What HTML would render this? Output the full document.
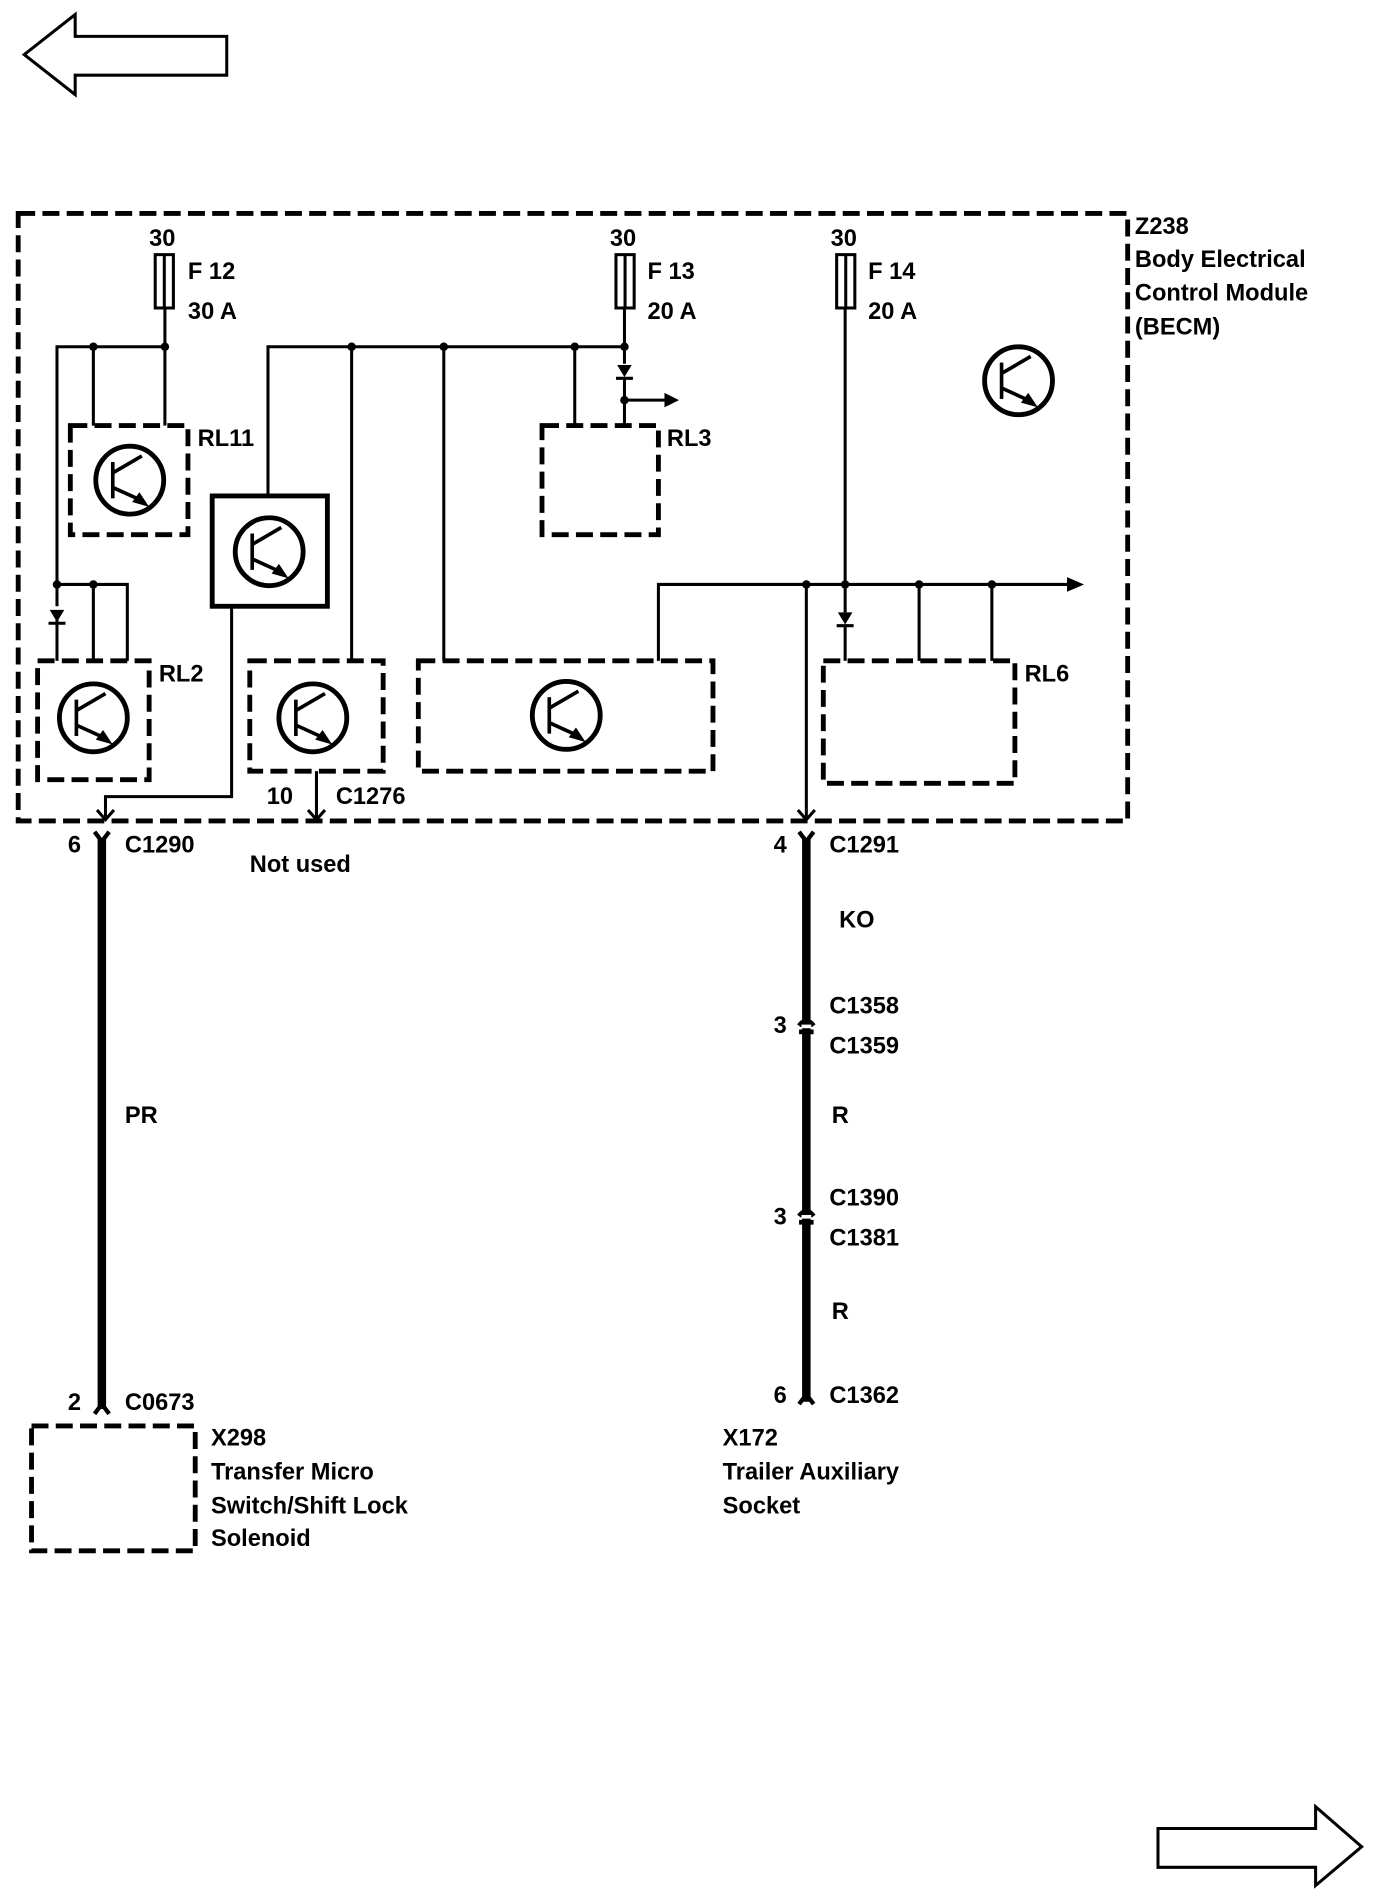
<!DOCTYPE html>
<html><head><meta charset="utf-8"><style>
html,body{margin:0;padding:0;background:#fff;}
svg{display:block;}
text{font-family:"Liberation Sans",Arial,sans-serif;font-weight:bold;font-size:19.5px;fill:#000;}
</style></head><body>
<svg width="1392" height="1902" viewBox="0 0 1148 1568.6" preserveAspectRatio="none" xmlns="http://www.w3.org/2000/svg">
<defs>
<g id="tr">
<circle cx="0" cy="0" r="28" fill="none" stroke="#000" stroke-width="4"/>
<line x1="-14" y1="-15" x2="-14" y2="15" stroke="#000" stroke-width="3"/>
<line x1="-14" y1="-6" x2="10" y2="-20" stroke="#000" stroke-width="3"/>
<line x1="-14" y1="6" x2="8" y2="16" stroke="#000" stroke-width="3"/>
<polygon points="16,22 2,18 8,10" fill="#000"/>
</g>
<g id="dio"><polygon points="-6,0 6,0 0,10" fill="#000"/><line x1="-7" y1="11" x2="7" y2="11" stroke="#000" stroke-width="2.5"/></g>
</defs>
<g fill="none" stroke="#000" stroke-width="2.5">
<polygon points="20,45 62,12 62,30 187,30 187,62 62,62 62,78"/>
<polygon points="1123,1523 1085,1490 1085,1508 955,1508 955,1540 1085,1540 1085,1555"/>
</g>
<g fill="none" stroke="#000" stroke-width="4" stroke-dasharray="14 6">
<rect x="15" y="176" width="915" height="501"/>
<rect x="58" y="351" width="97" height="90"/>
<rect x="31" y="545" width="92" height="98"/>
<rect x="206" y="545" width="110" height="91"/>
<rect x="345" y="545" width="243" height="91"/>
<rect x="447" y="351" width="96" height="90"/>
<rect x="679" y="545" width="158" height="101"/>
<rect x="26" y="1176" width="135" height="103"/>
</g>
<rect x="175" y="409" width="95" height="91" fill="none" stroke="#000" stroke-width="4"/>
<g stroke="#000" stroke-width="2.5" fill="none">
<rect x="128" y="210" width="15" height="44"/><line x1="135.5" y1="210" x2="135.5" y2="254"/>
<rect x="508" y="210" width="15" height="44"/><line x1="515.5" y1="210" x2="515.5" y2="254"/>
<rect x="690" y="210" width="15" height="44"/><line x1="697.5" y1="210" x2="697.5" y2="254"/>
<line x1="136" y1="254" x2="136" y2="351"/>
<polyline points="47,500 47,286 136,286"/>
<line x1="77" y1="286" x2="77" y2="351"/>
<line x1="47" y1="510" x2="47" y2="545"/>
<polyline points="47,482 105,482 105,545"/>
<line x1="77" y1="482" x2="77" y2="545"/>
<polyline points="221,409 221,286 515,286"/>
<line x1="515" y1="254" x2="515" y2="300"/>
<line x1="515" y1="312" x2="515" y2="351"/>
<line x1="515" y1="330" x2="548" y2="330"/>
<line x1="474" y1="286" x2="474" y2="351"/>
<line x1="290" y1="286" x2="290" y2="545"/>
<line x1="366" y1="286" x2="366" y2="545"/>
<polyline points="191,500 191,657 87,657 87,676"/>
<line x1="261" y1="636" x2="261" y2="676"/>
<polyline points="543,545 543,482 880,482"/>
<line x1="697" y1="254" x2="697" y2="505"/>
<line x1="697" y1="516" x2="697" y2="545"/>
<line x1="758" y1="482" x2="758" y2="545"/>
<line x1="818" y1="482" x2="818" y2="545"/>
<line x1="665" y1="482" x2="665" y2="676"/>
<polyline points="80,668 87,676 94,668"/>
<polyline points="254,668 261,676 268,668"/>
<polyline points="658,668 665,676 672,668"/>
</g>
<polygon points="548,324 560,330 548,336" fill="#000"/>
<polygon points="880,476 894,482 880,488" fill="#000"/>
<g fill="#000">
<circle cx="77" cy="286" r="3.5"/><circle cx="136" cy="286" r="3.5"/>
<circle cx="290" cy="286" r="3.5"/><circle cx="366" cy="286" r="3.5"/><circle cx="474" cy="286" r="3.5"/><circle cx="515" cy="286" r="3.5"/>
<circle cx="515" cy="330" r="3.5"/>
<circle cx="47" cy="482" r="3.5"/><circle cx="77" cy="482" r="3.5"/>
<circle cx="665" cy="482" r="3.5"/><circle cx="697" cy="482" r="3.5"/><circle cx="758" cy="482" r="3.5"/><circle cx="818" cy="482" r="3.5"/>
</g>
<use href="#dio" x="47" y="503"/>
<use href="#dio" x="515" y="301"/>
<use href="#dio" x="697" y="505"/>
<use href="#tr" x="107" y="396"/>
<use href="#tr" x="77" y="592"/>
<use href="#tr" x="222" y="455"/>
<use href="#tr" x="258" y="592"/>
<use href="#tr" x="467" y="590"/>
<use href="#tr" x="840" y="314"/>
<g stroke="#000" fill="none">
<line x1="84" y1="692" x2="84" y2="1162" stroke-width="7"/>
<line x1="665" y1="692" x2="665" y2="1156" stroke-width="7"/>
<polyline points="78,686 84,694 90,686" stroke-width="3.5"/>
<polyline points="659,686 665,694 671,686" stroke-width="3.5"/>
<path d="M78,1166 L84,1158 L90,1166" stroke-width="3.5"/>
<path d="M659,1158 L665,1150 L671,1158" stroke-width="3.5"/>
<path d="M659,846 Q665,838 671,846 M659,851 L671,851" stroke-width="4"/>
<path d="M659,1003 Q665,995 671,1003 M659,1008 L671,1008" stroke-width="4"/>
</g>
<rect x="661" y="845" width="8" height="3" fill="#fff"/>
<rect x="661" y="1002" width="8" height="3" fill="#fff"/>
<text x="123" y="203">30</text><text x="155" y="230">F 12</text><text x="155" y="263">30 A</text>
<text x="503" y="203">30</text><text x="534" y="230">F 13</text><text x="534" y="263">20 A</text>
<text x="685" y="203">30</text><text x="716" y="230">F 14</text><text x="716" y="263">20 A</text>
<text x="936" y="193">Z238</text>
<text x="936" y="220">Body Electrical</text>
<text x="936" y="248">Control Module</text>
<text x="936" y="276">(BECM)</text>
<text x="163" y="368">RL11</text>
<text x="550" y="368">RL3</text>
<text x="131" y="562">RL2</text>
<text x="845" y="562">RL6</text>
<text x="220" y="663">10</text><text x="277" y="663">C1276</text>
<text x="56" y="703">6</text><text x="103" y="703">C1290</text>
<text x="206" y="719">Not used</text>
<text x="103" y="926">PR</text>
<text x="56" y="1163">2</text><text x="103" y="1163">C0673</text>
<text x="174" y="1192">X298</text>
<text x="174" y="1220">Transfer Micro</text>
<text x="174" y="1248">Switch/Shift Lock</text>
<text x="174" y="1275">Solenoid</text>
<text x="638" y="703">4</text><text x="684" y="703">C1291</text>
<text x="692" y="765">KO</text>
<text x="684" y="836">C1358</text><text x="638" y="852">3</text><text x="684" y="869">C1359</text>
<text x="686" y="926">R</text>
<text x="684" y="994">C1390</text><text x="638" y="1010">3</text><text x="684" y="1027">C1381</text>
<text x="686" y="1088">R</text>
<text x="638" y="1157">6</text><text x="684" y="1157">C1362</text>
<text x="596" y="1192">X172</text>
<text x="596" y="1220">Trailer Auxiliary</text>
<text x="596" y="1248">Socket</text>
</svg>
</body></html>
